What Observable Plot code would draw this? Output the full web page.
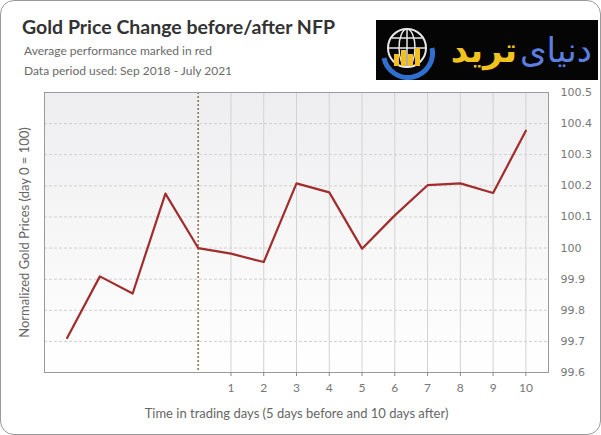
<!DOCTYPE html>
<html>
<head>
<meta charset="utf-8">
<script src="https://cdn.jsdelivr.net/npm/d3@7"></script>
<script src="https://cdn.jsdelivr.net/npm/@observablehq/plot@0.6"></script>
<style>
  html, body { margin: 0; padding: 0; background: #fff; }
  #wrap { position: relative; width: 601px; height: 435px; overflow: hidden; }
  #border { position: absolute; left: 0; top: 0; width: 601px; height: 435px; box-sizing: border-box;
            border: 1px solid #9a9a9a; border-radius: 14px; pointer-events: none; }
  #chart { position: absolute; left: 0; top: 0; }
  .t { position: absolute; white-space: nowrap; font-family: Lato, "Open Sans", sans-serif; }
  #title { left: 22px; top: 15px; font-size: 19.5px; font-weight: 700; color: #333; }
  #sub1 { left: 24px; top: 43px; font-size: 12px; color: #6a6a6a; }
  #sub2 { left: 24px; top: 63px; font-size: 12px; color: #6a6a6a; }
  #logo { position: absolute; left: 376px; top: 20px; }
</style>
</head>
<body>
<div id="wrap">
  <div id="chart"></div>
  <div class="t" id="title">Gold Price Change before/after NFP</div>
  <div class="t" id="sub1">Average performance marked in red</div>
  <div class="t" id="sub2">Data period used: Sep 2018 - July 2021</div>
  <svg id="logo" width="222" height="60" viewBox="0 0 222 60">
    <rect x="0" y="0" width="222" height="60" fill="#050505"/>
    <path d="M8,38 A24,24 0 1 0 56,28" fill="none" stroke="#2f6fd0" stroke-width="5"/>
    <circle cx="31" cy="28" r="19" fill="none" stroke="#e8e8e8" stroke-width="2"/>
    <ellipse cx="31" cy="28" rx="8" ry="19" fill="none" stroke="#e8e8e8" stroke-width="1.5"/>
    <line x1="12" y1="28" x2="50" y2="28" stroke="#e8e8e8" stroke-width="1.5"/>
    <line x1="16" y1="18" x2="46" y2="18" stroke="#e8e8e8" stroke-width="1.5"/>
    <line x1="31" y1="9" x2="31" y2="47" stroke="#e8e8e8" stroke-width="1.5"/>
    <rect x="18" y="34" width="5" height="12" fill="#f4c020"/>
    <rect x="25" y="30" width="5" height="16" fill="#f4c020"/>
    <rect x="32" y="34" width="5" height="12" fill="#f4c020"/>
    <rect x="39" y="28" width="5" height="18" fill="#f4c020"/>
    <text x="141" y="42" font-family="DejaVu Sans" font-size="34" font-weight="bold" fill="#f2c21e" text-anchor="end">ترید</text>
    <text x="144" y="42" font-family="DejaVu Sans" font-size="34" fill="#5b7fe0" text-anchor="start">دنیای</text>
  </svg>
  <div id="border"></div>
</div>
<script>
// ---- data ----
const days = [-4, -3, -2, -1, 0, 1, 2, 3, 4, 5, 6, 7, 8, 9, 10];
const avgPrice = [99.711, 99.909, 99.854, 100.175, 100.0, 99.982, 99.955, 100.208, 100.179, 99.998, 100.105, 100.202, 100.208, 100.177, 100.377];
const xTicks = [1, 2, 3, 4, 5, 6, 7, 8, 9, 10];
const yTicks = [99.6, 99.7, 99.8, 99.9, 100, 100.1, 100.2, 100.3, 100.4, 100.5];
const yLabel = "Normalized Gold Prices (day 0 = 100)";
const xLabel = "Time in trading days (5 days before and 10 days after)";

const data = days.map((d, i) => ({day: d, price: avgPrice[i]}));

const chart = Plot.plot({
  width: 601,
  height: 435,
  marginLeft: 44,
  marginRight: 53,
  marginTop: 92,
  marginBottom: 63,
  style: {background: "transparent", fontFamily: "Lato, sans-serif", fontSize: "12px", color: "#777"},
  x: {domain: [-4.69, 10.69]},
  y: {domain: [99.6, 100.5]},
  marks: [
    Plot.frame({fill: "url(#plotBg)"}),
    Plot.ruleY(yTicks.slice(1, -1), {stroke: "#cfcfcf", strokeDasharray: "3,2"}),
    Plot.ruleX(xTicks, {stroke: "#d2d2d2"}),
    Plot.ruleX([0], {stroke: "#8d6e40", strokeDasharray: "2,2", strokeWidth: 1.5}),
    Plot.line(data, {x: "day", y: "price", stroke: "#a22c2c", strokeWidth: 2.2}),
    Plot.frame({stroke: "#9a9a9a"}),
    Plot.axisX(xTicks, {tickSize: 4, tickPadding: 7, label: null, stroke: "#888", fill: "#777", fontSize: 12}),
    Plot.axisY(yTicks, {anchor: "right", tickSize: 0, tickPadding: 12, label: null, fill: "#777",
      fontFamily: "DejaVu Sans", fontSize: 11, tickFormat: d => String(+d.toFixed(1))}),
    Plot.text([xLabel], {frameAnchor: "bottom", dy: 45, text: d => d, fill: "#666", fontSize: 13}),
    Plot.text([yLabel], {frameAnchor: "left", dx: -20, rotate: -90, textAnchor: "middle", text: d => d, fill: "#666", fontSize: 13})
  ]
});

const defs = d3.select(chart).insert("defs", ":first-child");
const g = defs.append("linearGradient").attr("id", "plotBg").attr("x1", 0).attr("y1", 0).attr("x2", 0).attr("y2", 1);
g.append("stop").attr("offset", "0%").attr("stop-color", "#eeeef0");
g.append("stop").attr("offset", "100%").attr("stop-color", "#ffffff");

document.getElementById("chart").appendChild(chart);
</script>
</body>
</html>
